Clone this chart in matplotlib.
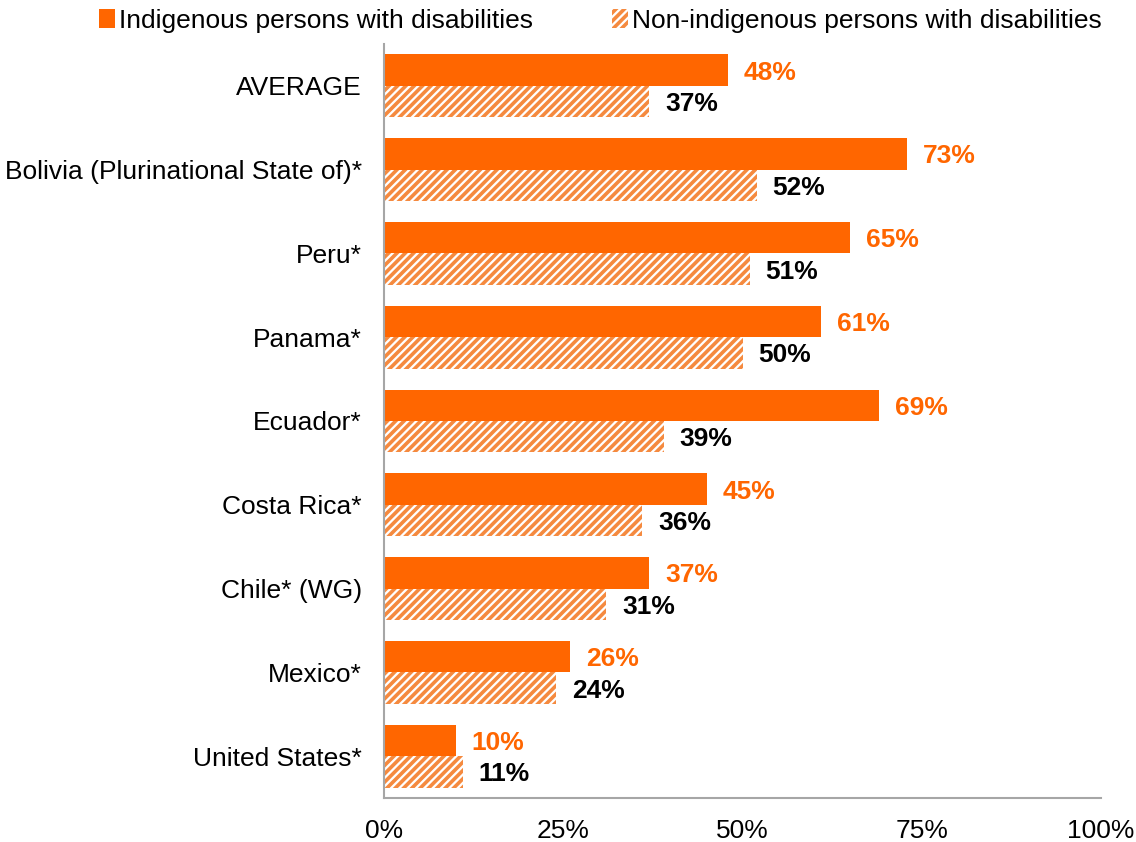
"""
Horizontal grouped bar chart: indigenous vs non-indigenous persons with disabilities
"""

import matplotlib.pyplot as plt
import numpy as np
from matplotlib.patches import Patch

countries = ["AVERAGE", "Bolivia (Plurinational State of)*", "Peru*", "Panama*",
             "Ecuador*", "Costa Rica*", "Chile* (WG)", "Mexico*", "United States*"]
indigenous = [48, 73, 65, 61, 69, 45, 37, 26, 10]
non_indigenous = [37, 52, 51, 50, 39, 36, 31, 24, 11]
x_ticks = [0, 25, 50, 75, 100]

ORANGE = "#FF6600"
HATCH_ORANGE = "#F58A3F"

plt.rcParams['font.family'] = ['Liberation Sans', 'DejaVu Sans']
plt.rcParams['hatch.linewidth'] = 2.6
plt.rcParams['hatch.color'] = HATCH_ORANGE

fig = plt.figure(figsize=(11.36, 8.42), dpi=100)
ax = fig.add_axes([384 / 1136, 44 / 842, (1101 - 384) / 1136, (798 - 44) / 842])

y = np.arange(len(countries))
h = 0.375

# top bar of each group is the indigenous one (y axis inverted below)
ax.barh(y - h / 2, indigenous, height=h, color=ORANGE, edgecolor="none")
ax.barh(y + h / 2, non_indigenous, height=h, color="white", edgecolor=HATCH_ORANGE,
        hatch="////", linewidth=0)

# value labels sit a touch below the bar centre, as in the original
for yi, v in zip(y, indigenous):
    ax.text(v + 2.2, yi - h / 2 + 0.03, f"{v}%", color=ORANGE, fontsize=19,
            fontweight="bold", va="center", ha="left")
for yi, v in zip(y, non_indigenous):
    ax.text(v + 2.2, yi + h / 2 + 0.03, f"{v}%", color="black", fontsize=19,
            fontweight="bold", va="center", ha="left")

ax.set_ylim(len(countries) - 0.5, -0.5)
ax.set_xlim(0, 100)
ax.set_yticks(y)
ax.set_yticklabels(countries, fontsize=19)
ax.set_xticks(x_ticks)
ax.set_xticklabels([f"{t}%" for t in x_ticks], fontsize=19)
ax.tick_params(axis="both", length=0)
ax.tick_params(axis="y", pad=16)
ax.tick_params(axis="x", pad=15)

for side in ["top", "right"]:
    ax.spines[side].set_visible(False)
for side in ["left", "bottom"]:
    ax.spines[side].set_color("#A6A6A6")
    ax.spines[side].set_linewidth(1.5)

handles = [
    Patch(facecolor=ORANGE, edgecolor="none", label="Indigenous persons with disabilities"),
    Patch(facecolor="white", edgecolor=HATCH_ORANGE, hatch="////", linewidth=0,
          label="Non-indigenous persons with disabilities"),
]
fig.legend(handles=handles, loc="center", bbox_to_anchor=(600 / 1136, 1 - 21 / 842),
           ncol=2, frameon=False, fontsize=19, handlelength=0.6, handleheight=0.75,
           handletextpad=0.15, columnspacing=3.0)

fig.savefig("out.png", dpi=100)
